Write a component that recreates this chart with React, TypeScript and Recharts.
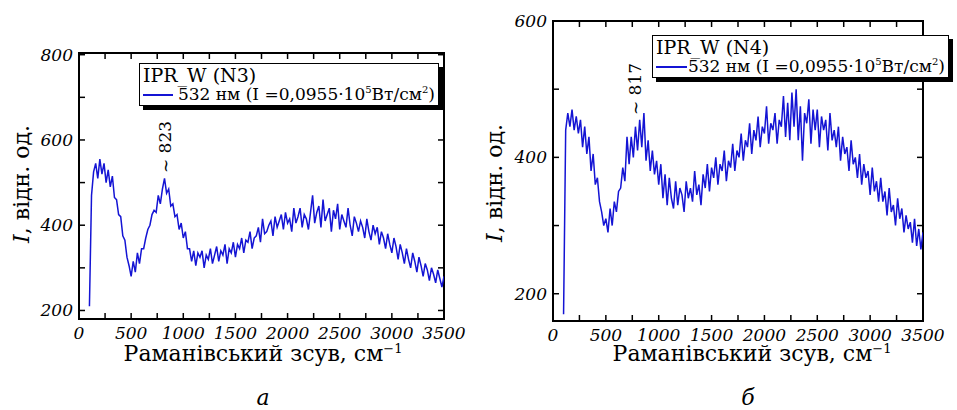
import React from "react";
import { LineChart, Line, XAxis, YAxis, ReferenceArea, ReferenceLine } from "recharts";

// Raman shift grid (cm-1): first sample and spacing
const SHIFT_START = 100;
const SHIFT_STEP = 20;

const X_TICKS = [0, 250, 500, 750, 1000, 1250, 1500, 1750, 2000, 2250, 2500, 2750, 3000, 3250, 3500];
const X_LABELS = [0, 500, 1000, 1500, 2000, 2500, 3000, 3500];
const N3_Y_TICKS = [200, 300, 400, 500, 600, 700, 800];
const N4_Y_TICKS = [200, 300, 400, 500, 600];
const N3_Y_LABELS = [200, 400, 600, 800];
const N4_Y_LABELS = [200, 400, 600];

const N3_INTENSITY = [
  210, 470, 525, 545, 510, 555, 520, 545, 500, 530,
  490, 515, 465, 460, 425, 420, 375, 365, 325, 305,
  280, 315, 290, 335, 310, 345, 345, 370, 390, 400,
  425, 435, 430, 470, 450, 485, 510, 475, 485, 445,
  450, 420, 425, 390, 405, 370, 385, 345, 345, 315,
  340, 305, 335, 325, 340, 300, 330, 320, 345, 310,
  330, 350, 315, 340, 330, 355, 310, 345, 335, 360,
  325, 355, 345, 370, 335, 365, 360, 385, 345, 370,
  375, 395, 360, 415, 380, 385, 400, 410, 375, 420,
  395, 410, 425, 390, 430, 405, 415, 385, 440, 405,
  420, 440, 395, 425, 415, 390, 430, 470, 405, 430,
  445, 395, 460, 410, 425, 440, 385, 435, 415, 450,
  390, 425, 410, 395, 440, 400, 375, 420, 405, 385,
  410, 395, 370, 415, 385, 365, 400, 380, 395, 355,
  385, 370, 345, 380, 355, 335, 370, 350, 320, 355,
  335, 310, 345, 320, 300, 335, 315, 290, 325, 305,
  280, 310, 295, 270, 300, 285, 265, 295, 275, 255,
  280,
];

const N4_INTENSITY = [
  170, 440, 465, 445, 470, 440, 460, 435, 455, 415,
  445, 405, 430, 380, 405, 360, 370, 335, 320, 300,
  310, 290, 325, 300, 335, 320, 350, 355, 385, 365,
  430, 390, 430, 400, 445, 410, 455, 415, 465, 395,
  425, 380, 410, 375, 395, 360, 390, 340, 375, 330,
  370, 340, 325, 365, 330, 355, 345, 320, 365, 340,
  355, 335, 380, 345, 360, 330, 375, 355, 390, 350,
  385, 370, 400, 360, 390, 380, 410, 365, 395, 385,
  420, 380, 410, 400, 435, 395, 425, 415, 450, 405,
  440, 425, 460, 415, 445, 435, 475, 420, 450, 440,
  465, 420, 455, 445, 490, 430, 480, 425, 495, 445,
  500, 425, 475, 395, 465, 450, 485, 420, 470, 440,
  470, 415, 460, 440, 455, 410, 465, 425, 440, 415,
  445, 395, 430, 405, 415, 380, 425, 390, 400, 370,
  405, 360, 390, 370, 380, 345, 385, 350, 365, 335,
  370, 335, 350, 315, 355, 320, 330, 300, 340, 310,
  325, 290, 315, 295, 305, 275, 310, 270, 295, 265,
  290,
];

const toRows = (vals: number[]) =>
  vals.map((v, i) => ({ shift: SHIFT_START + i * SHIFT_STEP, value: v }));

const n3Data = toRows(N3_INTENSITY);
const n4Data = toRows(N4_INTENSITY);

const SERIF = '"DejaVu Serif", "Liberation Serif", serif';
const BLUE = "#1414d4";
const X_DOMAIN: [number, number] = [0, 3500];
const CHART_H = 410;
const Y_AXIS_W = 60;
const X_AXIS_H = 30;
const TICK_PX = 6;
const labelStyle: React.CSSProperties = { fontFamily: SERIF, fontStyle: "italic", fontSize: 17 };

type TickProps = { x: number; y: number; payload: { value: number } };

const bottomLabel = (props: TickProps) =>
  X_LABELS.includes(props.payload.value) ? (
    <text x={props.x} y={props.y + 20} textAnchor="middle" fill="#000" style={labelStyle}>
      {props.payload.value}
    </text>
  ) : (
    <g />
  );

const leftLabel = (labels: number[]) => (props: TickProps) =>
  labels.includes(props.payload.value) ? (
    <text x={props.x - 6} y={props.y + 6} textAnchor="end" fill="#000" style={labelStyle}>
      {props.payload.value}
    </text>
  ) : (
    <g />
  );

type PanelProps = {
  data: Array<{ shift: number; value: number }>;
  yDomain: [number, number];
  yTicks: number[];
  yLabels: number[];
  width: number;
  margin: { top: number; right: number; bottom: number; left: number };
};

const Panel: React.FC<PanelProps> = ({ data, yDomain, yTicks, yLabels, width, margin }) => {
  // tick length converted from pixels to data units of this panel
  const plotW = width - margin.left - margin.right - Y_AXIS_W;
  const plotH = CHART_H - margin.top - margin.bottom - X_AXIS_H;
  const dy = ((yDomain[1] - yDomain[0]) / plotH) * TICK_PX;
  const dx = ((X_DOMAIN[1] - X_DOMAIN[0]) / plotW) * TICK_PX;
  const tickLine = { stroke: "#000", strokeWidth: 1.5, ifOverflow: "visible" as const };
  return (
    <LineChart width={width} height={CHART_H} data={data} margin={margin}>
      <XAxis
        dataKey="shift"
        type="number"
        domain={X_DOMAIN}
        ticks={X_TICKS}
        interval={0}
        allowDataOverflow
        height={X_AXIS_H}
        tickSize={0}
        tickMargin={0}
        tickLine={false}
        axisLine={false}
        tick={bottomLabel}
      />
      <YAxis
        type="number"
        domain={yDomain}
        ticks={yTicks}
        interval={0}
        allowDataOverflow
        width={Y_AXIS_W}
        tickSize={0}
        tickMargin={0}
        tickLine={false}
        axisLine={false}
        tick={leftLabel(yLabels)}
      />
      {X_TICKS.map((t) => (
        <ReferenceLine
          key={`b${t}`}
          segment={[{ x: t, y: yDomain[0] }, { x: t, y: yDomain[0] + dy }]}
          {...tickLine}
        />
      ))}
      {X_TICKS.map((t) => (
        <ReferenceLine
          key={`t${t}`}
          segment={[{ x: t, y: yDomain[1] }, { x: t, y: yDomain[1] - dy }]}
          {...tickLine}
        />
      ))}
      {yTicks.map((t) => (
        <ReferenceLine
          key={`l${t}`}
          segment={[{ x: X_DOMAIN[0], y: t }, { x: X_DOMAIN[0] + dx, y: t }]}
          {...tickLine}
        />
      ))}
      {yTicks.map((t) => (
        <ReferenceLine
          key={`r${t}`}
          segment={[{ x: X_DOMAIN[1], y: t }, { x: X_DOMAIN[1] - dx, y: t }]}
          {...tickLine}
        />
      ))}
      <ReferenceArea
        x1={X_DOMAIN[0]}
        x2={X_DOMAIN[1]}
        y1={yDomain[0]}
        y2={yDomain[1]}
        fill="none"
        stroke="#000"
        strokeWidth={2}
        ifOverflow="visible"
      />
      <Line
        type="linear"
        dataKey="value"
        stroke={BLUE}
        strokeWidth={1.5}
        dot={false}
        isAnimationActive={false}
      />
    </LineChart>
  );
};

const abs = (left: number, top: number): React.CSSProperties => ({
  position: "absolute",
  left,
  top,
  fontFamily: SERIF,
  color: "#000",
  whiteSpace: "nowrap",
  lineHeight: 1,
});

const centered = (cx: number, cy: number, rotate = 0): React.CSSProperties => ({
  ...abs(cx, cy),
  transform: `translate(-50%, -50%)${rotate ? ` rotate(${rotate}deg)` : ""}`,
});

const supStyle = (size: number): React.CSSProperties => ({ fontSize: size, lineHeight: 0 });

const LegendBox: React.FC<{ left: number; top: number; width: number; name: string; gap: number }> = ({
  left,
  top,
  width,
  name,
  gap,
}) => (
  <div
    style={{
      ...abs(left, top),
      width,
      height: 43,
      border: "1.5px solid #000",
      background: "#fff",
      boxShadow: "4px 4px 0 #000",
      boxSizing: "border-box",
      padding: "2px 3px",
    }}
  >
    <div style={{ fontSize: 19, height: 20 }}>{name}</div>
    <div style={{ fontSize: 17, display: "flex", alignItems: "center" }}>
      <span style={{ display: "inline-block", width: 32, height: 2, background: BLUE, marginRight: gap }} />
      <span>
        532 нм (I =0,0955·10<sup style={supStyle(10)}>5</sup>Вт/см<sup style={supStyle(10)}>2</sup>)
      </span>
    </div>
  </div>
);

const YTitle: React.FC<{ cx: number; cy: number }> = ({ cx, cy }) => (
  <div style={{ ...centered(cx, cy, -90), fontSize: 22 }}>
    <i>I</i>, відн. од.
  </div>
);

const XTitle: React.FC<{ cx: number; cy: number }> = ({ cx, cy }) => (
  <div style={{ ...centered(cx, cy), fontSize: 22 }}>
    Раманівський зсув, см<sup style={supStyle(13)}>−1</sup>
  </div>
);

export default function App() {
  return (
    <div style={{ position: "absolute", left: 0, top: 0, width: 957, height: 410, background: "#fff" }}>
      <div style={{ position: "absolute", left: 0, top: 0 }}>
        <Panel
          data={n3Data}
          yDomain={[180, 804]}
          yTicks={N3_Y_TICKS}
          yLabels={N3_Y_LABELS}
          width={478}
          margin={{ top: 53, right: 34, bottom: 61, left: 19 }}
        />
      </div>
      <div style={{ position: "absolute", left: 478, top: 0 }}>
        <Panel
          data={n4Data}
          yDomain={[160, 600]}
          yTicks={N4_Y_TICKS}
          yLabels={N4_Y_LABELS}
          width={479}
          margin={{ top: 21, right: 34, bottom: 59, left: 15 }}
        />
      </div>

      <LegendBox left={139} top={63} width={300} name="IPR_W (N3)" gap={5} />
      <LegendBox left={652} top={35} width={297} name="IPR_W (N4)" gap={1} />

      <div style={{ ...centered(165, 147, -90), fontSize: 17 }}>~ 823</div>
      <div style={{ ...centered(635, 89, -90), fontSize: 17 }}>~ 817</div>

      <YTitle cx={22} cy={184} />
      <YTitle cx={495} cy={183} />
      <XTitle cx={263} cy={354} />
      <XTitle cx={752} cy={354} />

      <div style={{ ...centered(263, 398), fontSize: 22, fontStyle: "italic" }}>а</div>
      <div style={{ ...centered(748, 398), fontSize: 22, fontStyle: "italic" }}>б</div>
    </div>
  );
}
